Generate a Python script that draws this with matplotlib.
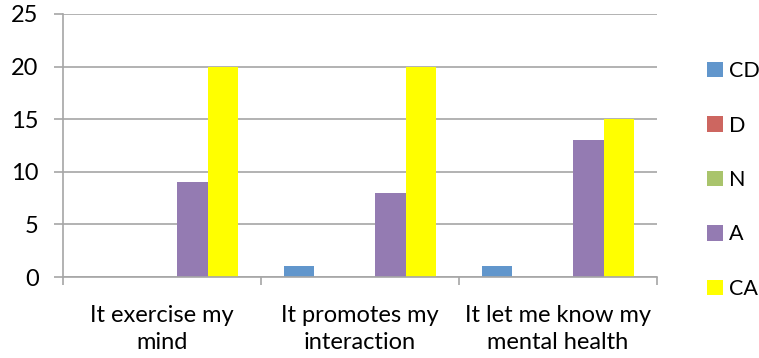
import matplotlib
matplotlib.use("Agg")
import matplotlib.pyplot as plt
import numpy as np

plt.rcParams['font.family'] = ['Lato', 'DejaVu Sans']

categories = ["It exercise my\nmind", "It promotes my\ninteraction", "It let me know my\nmental health"]
series_names = ["CD", "D", "N", "A", "CA"]
CD = [0, 1, 1]
D = [0, 0, 0]
N = [0, 0, 0]
A = [9, 8, 13]
CA = [20, 20, 15]
colors = ["#6196CC", "#CD6660", "#A9C46C", "#947BB2", "#FFFF00"]
yticks = [0, 5, 10, 15, 20, 25]

W, H = 759, 358
fig = plt.figure(figsize=(W / 100, H / 100), dpi=100)
ax = fig.add_axes([63 / W, (H - 277) / H, (657 - 63) / W, (277 - 14) / H])

grid_c = "#A6A6A6"
fs = 17
x = np.arange(len(categories))
w = 1 / 6.5
for j, (name, vals) in enumerate(zip(series_names, [CD, D, N, A, CA])):
    ax.bar(x + (j - 2) * w, vals, width=w, color=colors[j], label=name,
           linewidth=0, zorder=3)

ax.set_xlim(-0.5, len(categories) - 0.5)
ax.set_ylim(0, 25)
ax.set_yticks(yticks)
ax.yaxis.grid(True, color=grid_c, linewidth=1.2, zorder=0)
ax.set_axisbelow(True)

for s in ["top", "right"]:
    ax.spines[s].set_visible(False)
for s in ["left", "bottom"]:
    ax.spines[s].set_color(grid_c)
    ax.spines[s].set_linewidth(1.2)
    ax.spines[s].set_zorder(4)

ax.tick_params(axis="y", length=6.5, width=1.2, color=grid_c, pad=11,
               labelsize=fs, labelcolor="black")
ax.set_xticks(x)
ax.set_xticklabels(categories, fontsize=fs, linespacing=1.35)
ax.set_xticks(np.arange(len(categories) + 1) - 0.5, minor=True)
ax.tick_params(axis="x", which="major", length=0, pad=20)
ax.tick_params(axis="x", which="minor", length=6, width=1.2, color=grid_c)

leg = ax.legend(loc="center left", bbox_to_anchor=(707 / W, (H - 180) / H),
                bbox_transform=fig.transFigure, frameon=False, fontsize=15.5,
                handlelength=0.72, handleheight=0.72, handletextpad=0.3,
                labelspacing=1.6, borderpad=0, borderaxespad=0)

fig.savefig("out.png", dpi=100)
